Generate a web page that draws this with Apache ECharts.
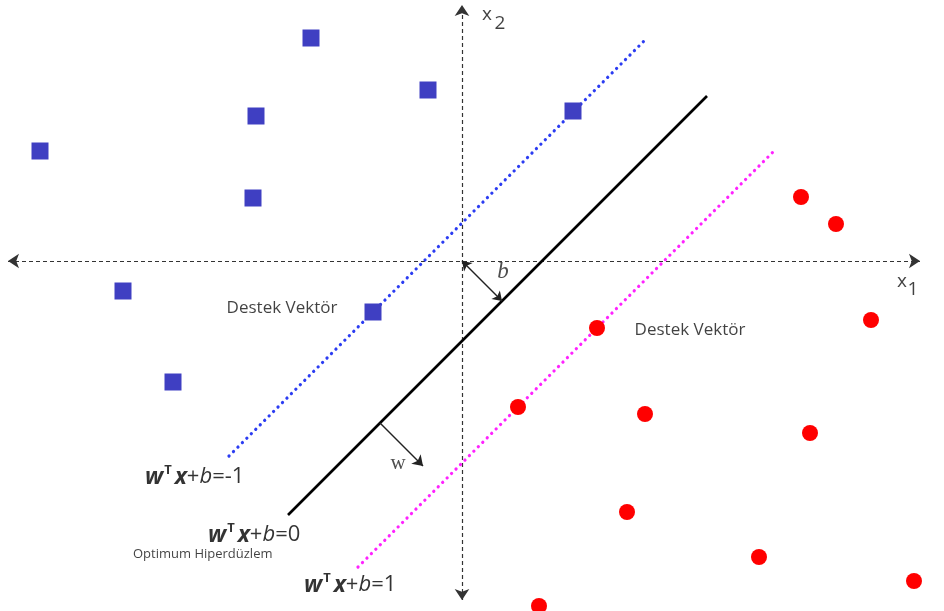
<!DOCTYPE html>
<html>
<head>
<meta charset="utf-8">
<script src="https://cdn.jsdelivr.net/npm/echarts@6/dist/echarts.min.js"></script>
<style>
  html, body { margin: 0; padding: 0; background: #ffffff; }
  #chart { width: 944px; height: 611px; }
</style>
</head>
<body>
<div id="chart"></div>
<script>
// Feature space extent (x1, x2)
const xRange = [-46.2, 48.2];
const yRange = [-35.0, 26.1];

// Class -1 samples (squares)
const classNeg = [
  [-15.1, 22.3], [-3.4, 17.1], [-20.6, 14.5], [11.1, 15.0], [-42.2, 11.0],
  [-20.9, 6.3], [-33.9, -3.0], [-8.9, -5.1], [-28.9, -12.1]
];

// Class +1 samples (circles)
const classPos = [
  [33.9, 6.4], [37.4, 3.7], [40.9, -5.9], [13.5, -6.7], [5.6, -14.6],
  [18.3, -15.3], [34.8, -17.2], [16.5, -25.1], [29.7, -29.6], [45.2, -32.0],
  [7.7, -34.5]
];

// Hyperplanes w^T x + b = -1, 0, 1 (end points)
const marginNeg = [[-23.3, -19.5], [18.5, 22.3]];
const hyperplane = [[-17.4, -25.4], [24.5, 16.5]];
const marginPos = [[-10.4, -30.6], [31.4, 11.2]];

// Coordinate axes (with arrows at both ends)
const axisX1 = [[-45.4, 0], [45.8, 0]];
const axisX2 = [[0, -33.9], [0, 25.6]];

// Offset vector b and normal vector w
const vecB = [[0, 0], [4.0, -4.0]];
const vecW = [[-8.2, -16.2], [-3.9, -20.5]];

// Text annotations
const supportLabels = [
  { text: 'Destek Vektör', at: [-18.0, -4.7] },
  { text: 'Destek Vektör', at: [22.8, -6.9] }
];
const equationLabels = [
  { rhs: '=-1', at: [-31.7, -21.6] },
  { rhs: '=0', at: [-25.4, -27.4] },
  { rhs: '=1', at: [-15.8, -32.4] }
];
const planeCaption = { text: 'Optimum Hiperdüzlem', at: [-32.9, -29.3] };
const axisNames = [
  { text: 'x', at: [2.5, 24.6], size: 19 },
  { text: '2', at: [3.8, 23.7], size: 19 },
  { text: 'x', at: [44.0, -2.1], size: 19 },
  { text: '1', at: [45.1, -2.9], size: 19 }
];
const vectorNames = [
  { text: 'w', at: [-6.4, -20.2], style: 'normal', size: 21 },
  { text: 'b', at: [4.1, -1.1], style: 'italic', size: 23 }
];

const sans = '"Open Sans", "Liberation Sans", sans-serif';
const serif = '"Liberation Serif", "DejaVu Serif", serif';
const ink = '#000000';

function textSeries(items, labelFn) {
  return {
    type: 'scatter',
    symbolSize: 0,
    silent: true,
    z: 10,
    data: items.map(it => ({ value: it.at, label: labelFn(it) }))
  };
}

const chart = echarts.init(document.getElementById('chart'));
chart.setOption({
  animation: false,
  backgroundColor: '#ffffff',
  grid: { left: 0, right: 0, top: 0, bottom: 0 },
  xAxis: { type: 'value', min: xRange[0], max: xRange[1], show: false },
  yAxis: { type: 'value', min: yRange[0], max: yRange[1], show: false },
  series: [
    {
      type: 'lines', coordinateSystem: 'cartesian2d', silent: true, z: 1,
      symbol: ['arrow', 'arrow'], symbolSize: 11,
      lineStyle: { color: '#333333', width: 1.2, type: [4, 3], opacity: 1 },
      data: [{ coords: axisX1 }, { coords: axisX2 }]
    },
    {
      type: 'line', silent: true, symbol: 'none', z: 3,
      lineStyle: { color: '#2b3cf2', width: 3.2, type: [0.1, 6.2], cap: 'round' },
      data: marginNeg
    },
    {
      type: 'line', silent: true, symbol: 'none', z: 3,
      lineStyle: { color: '#000000', width: 2.6 },
      data: hyperplane
    },
    {
      type: 'line', silent: true, symbol: 'none', z: 3,
      lineStyle: { color: '#ff22ff', width: 3.2, type: [0.1, 6.2], cap: 'round' },
      data: marginPos
    },
    {
      type: 'lines', coordinateSystem: 'cartesian2d', silent: true, z: 4,
      symbol: ['arrow', 'arrow'], symbolSize: 9,
      lineStyle: { color: '#222222', width: 1.4, opacity: 1 },
      data: [{ coords: vecB }]
    },
    {
      type: 'lines', coordinateSystem: 'cartesian2d', silent: true, z: 4,
      symbol: ['none', 'arrow'], symbolSize: 10,
      lineStyle: { color: '#222222', width: 1.4, opacity: 1 },
      data: [{ coords: vecW }]
    },
    {
      type: 'scatter', silent: true, z: 5,
      symbol: 'rect', symbolSize: 17,
      itemStyle: { color: '#3f3fc2', opacity: 1 },
      data: classNeg
    },
    {
      type: 'scatter', silent: true, z: 5,
      symbol: 'circle', symbolSize: 16,
      itemStyle: { color: '#ff0000', opacity: 1 },
      data: classPos
    },
    textSeries(supportLabels, it => ({
      show: true, position: 'inside', formatter: it.text,
      fontFamily: sans, fontSize: 17, color: '#111111'
    })),
    textSeries([planeCaption], it => ({
      show: true, position: 'inside', align: 'left', formatter: it.text,
      fontFamily: sans, fontSize: 13, color: '#111111'
    })),
    textSeries(axisNames, it => ({
      show: true, position: 'inside', formatter: it.text,
      fontFamily: sans, fontSize: it.size, color: '#111111'
    })),
    textSeries(vectorNames, it => ({
      show: true, position: 'inside', formatter: it.text,
      fontFamily: serif, fontStyle: it.style,
      fontSize: it.size, color: '#222222'
    })),
    textSeries(equationLabels, it => ({
      show: true, position: 'inside', align: 'left',
      formatter: '{w|w}{t|T}{x|x}{n|+}{b|b}{n|' + it.rhs + '}',
      rich: {
        w: { fontFamily: sans, fontSize: 23, fontWeight: 'bold', fontStyle: 'italic', color: ink, lineHeight: 26 },
        t: { fontFamily: sans, fontSize: 13, fontWeight: 'bold', color: ink, verticalAlign: 'top', padding: [0, 3, 0, 1], lineHeight: 26 },
        x: { fontFamily: sans, fontSize: 23, fontWeight: 'bold', fontStyle: 'italic', color: ink, lineHeight: 26 },
        b: { fontFamily: sans, fontSize: 22, fontStyle: 'italic', color: ink, lineHeight: 26 },
        n: { fontFamily: sans, fontSize: 22, color: ink, lineHeight: 26 }
      }
    }))
  ]
});
</script>
</body>
</html>
